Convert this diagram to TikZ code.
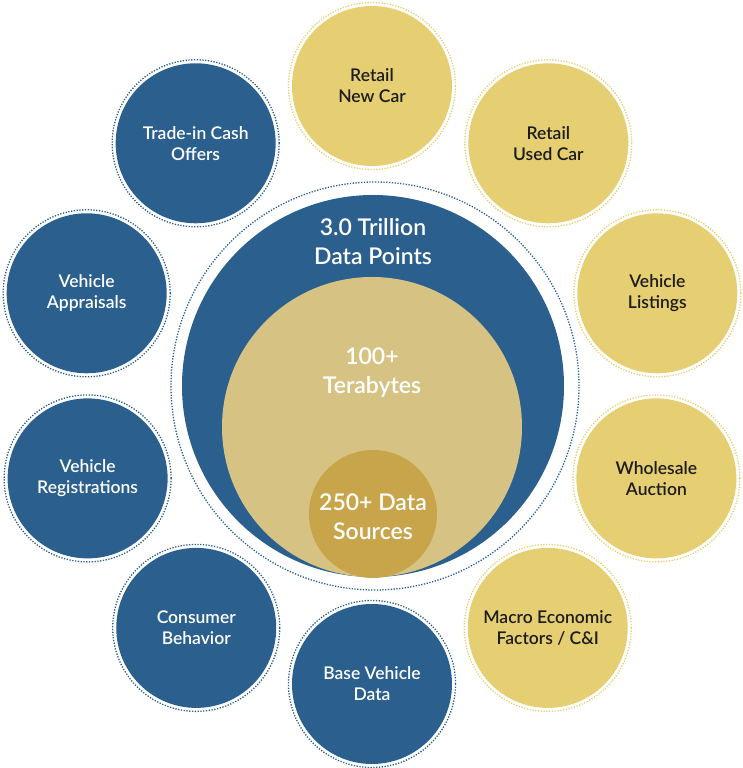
\documentclass[tikz,border=0pt]{standalone}
\usepackage{fontspec}
\setmainfont{Lato Semibold}
\usetikzlibrary{positioning}
\definecolor{DataBlue}{HTML}{2A5F8E}
\definecolor{DataGold}{HTML}{E6CE72}
\definecolor{DataTan}{HTML}{D6C384}
\definecolor{DataOchre}{HTML}{C8A54A}
\definecolor{TextDark}{HTML}{1C1C1C}

\begin{document}
\begin{tikzpicture}[
  x=1pt,y=1pt,
  src/.style={circle,inner sep=0pt,minimum size=160pt,align=center,
              font=\fontsize{17.5}{21}\selectfont},
  bsrc/.style={src,fill=DataBlue,text=white},
  gsrc/.style={src,fill=DataGold,text=TextDark},
  bring/.style={draw=DataBlue,line width=1.3pt,dash pattern=on 1.3pt off 1.5pt},
  gring/.style={draw=DataGold,line width=1.3pt,dash pattern=on 1.3pt off 1.5pt},
  big/.style={align=center,text=white,font=\fontsize{23}{29}\selectfont}
]
  \useasboundingbox (-372,-382) rectangle (370,386);

  % centre
  \draw[bring] (3,0) circle (204);
  \fill[DataBlue] (1,0) circle (191);
  \fill[DataTan] (0,-41) circle (150);
  \fill[DataOchre] (1,-128) circle (64);
  \node[big] (pts) at (1,144) {3.0 Trillion\\Data Points};
  \node[big] (tb)  at (0,13)  {100+\\Terabytes};
  \node[big] (ds)  at (1,-131) {250+ Data\\Sources};

  % gold sources
  \node[gsrc] (newcar)  at (90:300)  {Retail\\New Car};
  \node[gsrc] (usedcar) at (54:300)  {Retail\\Used Car};
  \node[gsrc] (list)    at (18:300)  {Vehicle\\Listings};
  \node[gsrc] (auction) at (-18:299) {Wholesale\\Auction};
  \node[gsrc] (macro)   at (-54:299) {Macro Economic\\Factors / C\&I};

  % blue sources
  \node[bsrc] (base)    at (-90:298)  {Base Vehicle\\Data};
  \node[bsrc] (consumer) at (-126:299) {Consumer\\Behavior};
  \node[bsrc] (reg)     at (-162:299) {Vehicle\\Registrations};
  \node[bsrc] (appr)    at (162:300)  {Vehicle\\Appraisals};
  \node[bsrc] (trade)   at (126:300)  {Trade-in Cash\\Offers};

  \foreach \n in {newcar,usedcar,list,auction,macro}
    \draw[gring] (\n) circle (83.5);
  \foreach \n in {base,consumer,reg,appr,trade}
    \draw[bring] (\n) circle (83.5);
\end{tikzpicture}
\end{document}
